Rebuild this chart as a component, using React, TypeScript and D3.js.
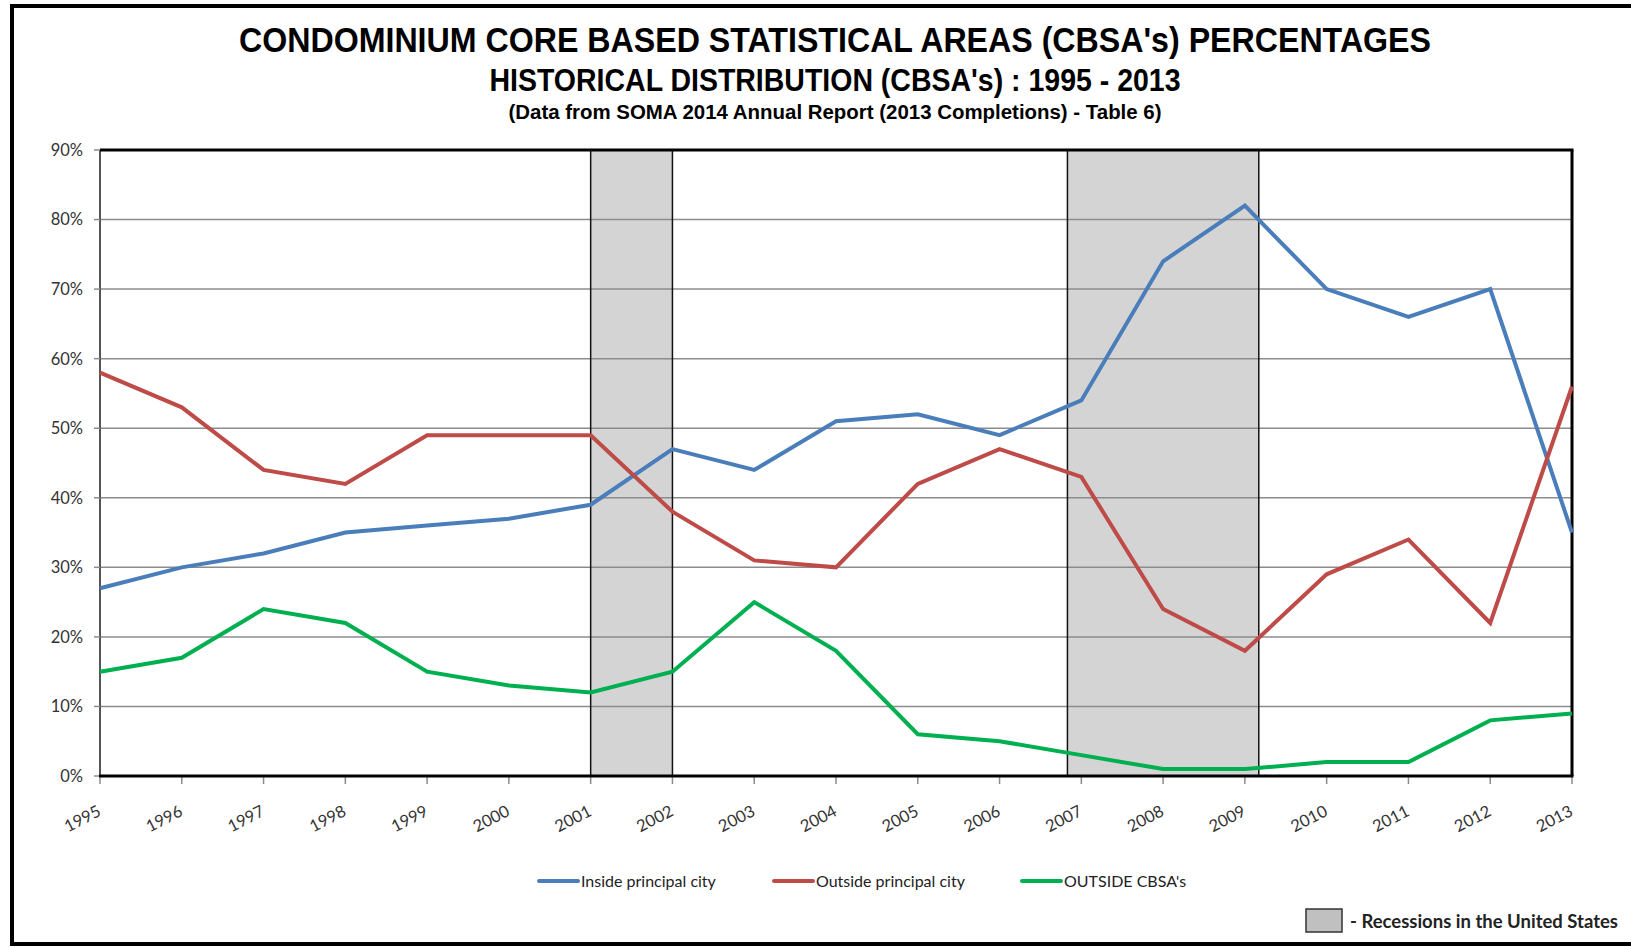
import React, { useEffect, useRef } from "react";
import * as d3 from "d3";

const years = [1995, 1996, 1997, 1998, 1999, 2000, 2001, 2002, 2003, 2004, 2005, 2006, 2007, 2008, 2009, 2010, 2011, 2012, 2013];
const insideCity = [27, 30, 32, 35, 36, 37, 39, 47, 44, 51, 52, 49, 54, 74, 82, 70, 66, 70, 35];
const outsideCity = [58, 53, 44, 42, 49, 49, 49, 38, 31, 30, 42, 47, 43, 24, 18, 29, 34, 22, 56];
const outsideCbsa = [15, 17, 24, 22, 15, 13, 12, 15, 25, 18, 6, 5, 3, 1, 1, 2, 2, 8, 9];
const yTicks = [0, 10, 20, 30, 40, 50, 60, 70, 80, 90];
// recession periods, in chart-year units
const recessions = [
  [2001, 2002],
  [2006.83, 2009.17],
];

const seriesNames = ["Inside principal city", "Outside principal city", "OUTSIDE CBSA's"];
const seriesColors = ["#4a7ebb", "#be4b48", "#00b050"];

const App = () => {
  const svgRef = useRef<SVGSVGElement>(null);

  useEffect(() => {
    const svg = d3.select(svgRef.current);
    svg.selectAll("*").remove();

    const width = 1631;
    const height = 947;
    const left = 100, right = 1572, top = 150, bottom = 776;

    const x = d3.scaleLinear().domain([1995, 2013]).range([left, right]);
    const y = d3.scaleLinear().domain([0, 90]).range([bottom, top]);

    svg.append("rect").attr("width", width).attr("height", height).attr("fill", "#fff");

    // outer frame
    svg.append("rect")
      .attr("x", 12).attr("y", 6)
      .attr("width", width + 20).attr("height", 938)
      .attr("fill", "none").attr("stroke", "#000").attr("stroke-width", 4);

    // titles
    const titleFont = "'Liberation Sans Narrow', 'Liberation Sans', Arial, sans-serif";
    const titles = [
      { text: "CONDOMINIUM CORE BASED STATISTICAL AREAS (CBSA's) PERCENTAGES", y: 52, size: 35, len: 1192 },
      { text: "HISTORICAL DISTRIBUTION (CBSA's) : 1995 - 2013", y: 91, size: 31, len: 691 },
      { text: "(Data from SOMA 2014 Annual Report (2013 Completions) - Table 6)", y: 119, size: 20, len: 653 },
    ];
    titles.forEach((t) => {
      svg.append("text")
        .attr("x", 835).attr("y", t.y)
        .attr("text-anchor", "middle")
        .attr("textLength", t.len)
        .attr("lengthAdjust", "spacingAndGlyphs")
        .style("font-family", titleFont)
        .style("font-weight", "bold")
        .style("font-size", t.size + "px")
        .style("fill", "#000")
        .text(t.text);
    });

    // recession shading
    recessions.forEach(([a, b]) => {
      svg.append("rect")
        .attr("x", x(a)).attr("y", top)
        .attr("width", x(b) - x(a)).attr("height", bottom - top)
        .attr("fill", "#d4d4d4");
    });

    // gridlines
    svg.append("g")
      .selectAll("line")
      .data(yTicks.filter((d) => d > 0 && d < 90))
      .join("line")
      .attr("x1", left).attr("x2", right)
      .attr("y1", (d) => y(d)).attr("y2", (d) => y(d))
      .attr("stroke", "#8c8c8c").attr("stroke-width", 1.5);

    recessions.forEach(([a, b]) => {
      [a, b].forEach((v) => {
        svg.append("line")
          .attr("x1", x(v)).attr("x2", x(v))
          .attr("y1", top).attr("y2", bottom)
          .attr("stroke", "#111").attr("stroke-width", 1.5);
      });
    });

    const font = "Lato, 'Open Sans', sans-serif";

    // y axis
    svg.append("line")
      .attr("x1", left).attr("x2", left).attr("y1", top).attr("y2", bottom)
      .attr("stroke", "#555").attr("stroke-width", 2);
    const yAxis = svg.append("g");
    yTicks.forEach((d) => {
      yAxis.append("line")
        .attr("x1", left - 6).attr("x2", left)
        .attr("y1", y(d)).attr("y2", y(d))
        .attr("stroke", "#8c8c8c").attr("stroke-width", 1.5);
      yAxis.append("text")
        .attr("x", 83).attr("y", y(d))
        .attr("dy", "0.36em")
        .attr("text-anchor", "end")
        .style("font-family", font)
        .style("font-size", "16.5px")
        .style("fill", "#333")
        .text(d + "%");
    });

    // x axis
    const xAxis = svg.append("g");
    years.forEach((yr) => {
      xAxis.append("line")
        .attr("x1", x(yr)).attr("x2", x(yr))
        .attr("y1", bottom).attr("y2", bottom + 8)
        .attr("stroke", "#8c8c8c").attr("stroke-width", 1.5);
      xAxis.append("text")
        .attr("transform", `translate(${x(yr) + 2},${bottom + 39}) rotate(-27)`)
        .attr("text-anchor", "end")
        .style("font-family", font)
        .style("font-size", "16.5px")
        .style("fill", "#333")
        .text(yr);
    });

    // plot frame: thick top, right
    svg.append("line")
      .attr("x1", left).attr("x2", right + 1.5).attr("y1", top).attr("y2", top)
      .attr("stroke", "#000").attr("stroke-width", 3);
    svg.append("line")
      .attr("x1", right).attr("x2", right).attr("y1", top).attr("y2", bottom)
      .attr("stroke", "#000").attr("stroke-width", 3);

    // series lines
    const seriesData = [insideCity, outsideCity, outsideCbsa];
    const line = d3.line<number>()
      .x((_, i) => x(years[i]))
      .y((d) => y(d));
    const plot = svg.append("g");
    seriesData.forEach((vals, i) => {
      plot.append("path")
        .datum(vals)
        .attr("d", line)
        .attr("fill", "none")
        .attr("stroke", seriesColors[i])
        .attr("stroke-width", 4)
        .attr("stroke-linejoin", "miter");
    });

    svg.append("line")
      .attr("x1", left - 1).attr("x2", right + 1.5).attr("y1", bottom).attr("y2", bottom)
      .attr("stroke", "#000").attr("stroke-width", 3);

    // legend
    const legendX = [539, 774, 1022];
    seriesNames.forEach((name, i) => {
      svg.append("line")
        .attr("x1", legendX[i]).attr("x2", legendX[i] + 39)
        .attr("y1", 881).attr("y2", 881)
        .attr("stroke", seriesColors[i]).attr("stroke-width", 4)
        .attr("stroke-linecap", "round");
      svg.append("text")
        .attr("x", legendX[i] + 42).attr("y", 881)
        .attr("dy", "0.36em")
        .style("font-family", font)
        .style("font-size", "16px")
        .style("fill", "#222")
        .text(name);
    });

    // recession legend
    svg.append("rect")
      .attr("x", 1306).attr("y", 909).attr("width", 36).attr("height", 23)
      .attr("fill", "#c0c0c0").attr("stroke", "#333").attr("stroke-width", 1.5);
    svg.append("text")
      .attr("x", 1350).attr("y", 928)
      .attr("textLength", 268)
      .attr("lengthAdjust", "spacingAndGlyphs")
      .style("font-family", font)
      .style("font-size", "18px")
      .style("font-weight", "bold")
      .style("fill", "#222")
      .text("- Recessions in the United States");
  }, []);

  return (
    <svg
      ref={svgRef}
      width={1631}
      height={947}
      style={{ position: "absolute", left: 0, top: 0 }}
    ></svg>
  );
};

export default App;
